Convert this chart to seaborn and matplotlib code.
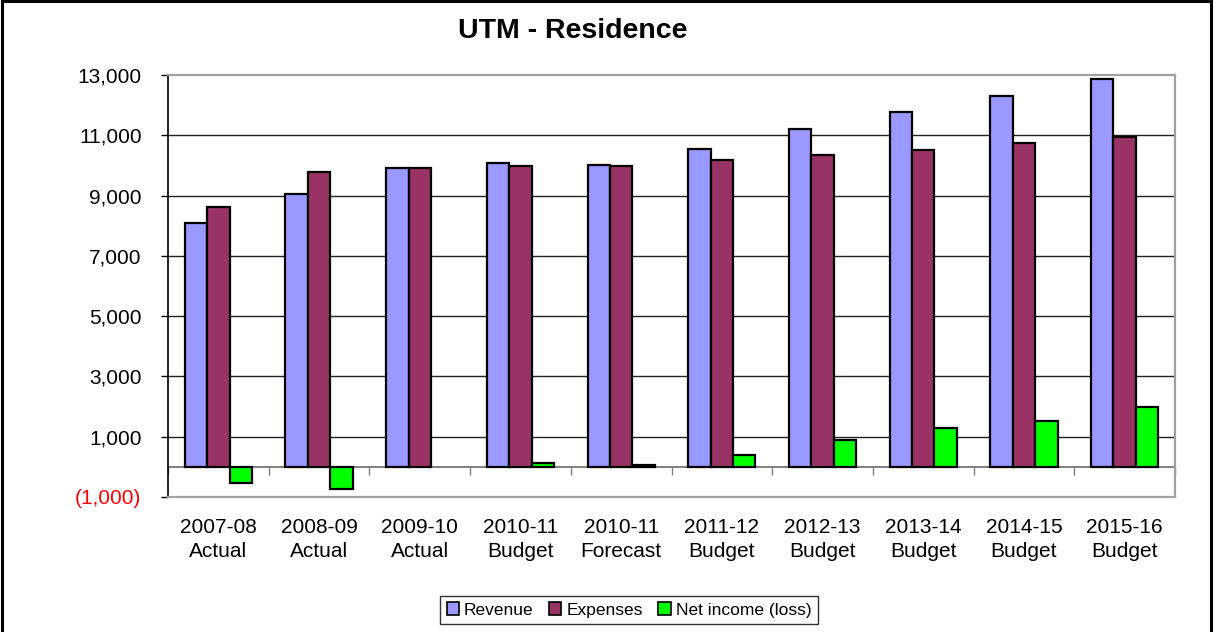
import pandas as pd
import matplotlib
matplotlib.use("Agg")
import matplotlib.pyplot as plt
from matplotlib.patches import Rectangle, Patch
import seaborn as sns

# Chart values
periods = ["2007-08\nActual", "2008-09\nActual", "2009-10\nActual", "2010-11\nBudget",
           "2010-11\nForecast", "2011-12\nBudget", "2012-13\nBudget", "2013-14\nBudget",
           "2014-15\nBudget", "2015-16\nBudget"]
revenue = [8100, 9060, 9900, 10090, 10020, 10560, 11200, 11780, 12300, 12870]
expenses = [8620, 9770, 9900, 9970, 9970, 10180, 10350, 10500, 10750, 10930]
net_income = [-530, -730, 0, 120, 50, 380, 880, 1280, 1530, 1970]
series_names = ["Revenue", "Expenses", "Net income (loss)"]
series_colors = ["#9999FF", "#993366", "#00FF00"]
y_ticks = [-1000, 1000, 3000, 5000, 7000, 9000, 11000, 13000]

df = pd.DataFrame({
    "period": periods * 3,
    "value": revenue + expenses + net_income,
    "series": [s for s in series_names for _ in periods],
})

sns.set_style("white")
plt.rcParams["font.family"] = ["Liberation Sans", "DejaVu Sans"]
plt.rcParams["text.color"] = "black"
plt.rcParams["xtick.color"] = "black"
plt.rcParams["ytick.color"] = "black"

fig = plt.figure(figsize=(12.15, 6.32), dpi=100)
ax = fig.add_axes([168 / 1215, 1 - 497 / 632, (1175 - 168) / 1215, (497 - 75) / 632])

sns.barplot(data=df, x="period", y="value", hue="series", order=periods,
            hue_order=series_names, palette=series_colors, width=0.667, gap=0,
            edgecolor="black", linewidth=1.6, saturation=1, errorbar=None,
            legend=False, ax=ax, zorder=3)
for p in ax.patches:
    if p.get_height() == 0:
        p.set_linewidth(0)

ax.set_xlim(-0.5, len(periods) - 0.5)
ax.set_ylim(-1000, 13000)

# gridlines
for t in y_ticks[1:-1]:
    ax.axhline(t, color="#222222", linewidth=1, zorder=1)

# y axis
labels = [f"{t:,}" if t >= 0 else f"({abs(t):,})" for t in y_ticks]
ax.set_yticks(y_ticks, labels)
ax.tick_params(axis="y", direction="out", length=5, width=1, color="black",
               pad=14, labelsize=15, left=True)
for lab, t in zip(ax.get_yticklabels(), y_ticks):
    lab.set_color("red" if t < 0 else "black")

# x axis labels
ax.set_xticks(range(len(periods)), periods)
ax.tick_params(axis="x", length=0, pad=15, labelsize=15)
for lab in ax.get_xticklabels():
    lab.set_linespacing(1.35)
ax.set_xlabel("")
ax.set_ylabel("")

for side in ["top", "right", "bottom"]:
    ax.spines[side].set_color("#A0A0A0")
    ax.spines[side].set_linewidth(1.6)
ax.spines["left"].set_color("black")
ax.spines["left"].set_linewidth(1.2)

# zero line with category separator ticks
zero_axis = ax.secondary_xaxis(1000 / 14000)
zero_axis.set_xticks([i - 0.5 for i in range(len(periods) + 1)], [""] * (len(periods) + 1))
zero_axis.tick_params(axis="x", direction="out", length=6, width=1, color="#808080")
zero_axis.spines["bottom"].set_color("#808080")
zero_axis.spines["bottom"].set_linewidth(1.4)
zero_axis.spines["bottom"].set_zorder(4)

fig.text(573 / 1215, 1 - 31 / 632, "UTM - Residence", ha="center", va="center",
         fontsize=20.5, fontweight="bold", color="black")

handles = [Patch(facecolor=c, edgecolor="black", linewidth=1.2) for c in series_colors]
leg = fig.legend(handles, series_names, loc="center", bbox_to_anchor=(629 / 1215, 1 - 610 / 632),
                 ncol=3, fontsize=12.5, frameon=True, fancybox=False, handlelength=0.7,
                 handleheight=0.7, handletextpad=0.3, columnspacing=0.9, borderpad=0.35)
leg.get_frame().set_edgecolor("black")
leg.get_frame().set_linewidth(1)

fig.patches.append(Rectangle((0.002, -0.05), 0.995, 1.048, transform=fig.transFigure,
                             fill=False, edgecolor="black", linewidth=2.2))

plt.savefig("out.png", dpi=100)
